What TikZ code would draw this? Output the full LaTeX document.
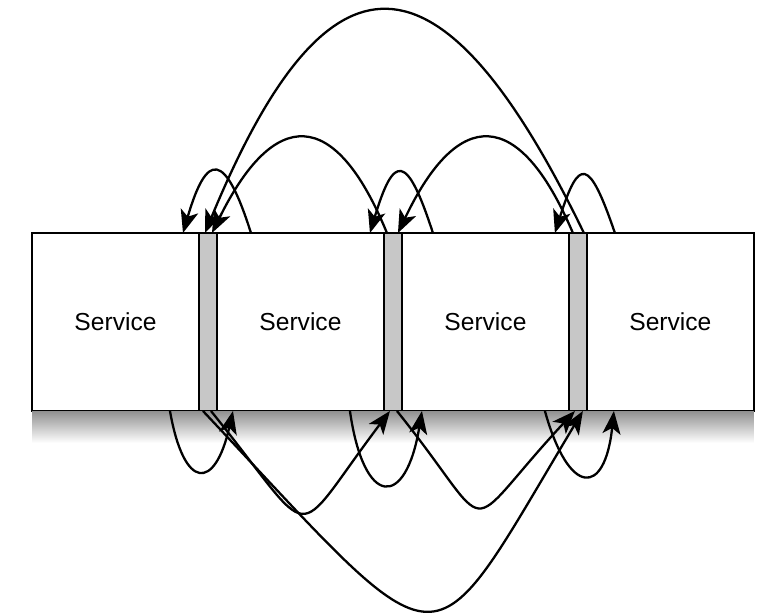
\documentclass[tikz,border=0pt]{standalone}
\usepackage{fontspec}
\setmainfont{Liberation Sans}
\usetikzlibrary{arrows.meta,positioning,calc}

\begin{document}
\begin{tikzpicture}[x=0.02cm,y=-0.02cm]
\tikzset{service/.style ={draw,line width=1.3pt,fill=white,minimum width=3.34cm,minimum height=3.56cm,outer sep=0pt,inner sep=0pt,font=\fontsize{14}{16}\selectfont},
  adapter/.style ={draw,line width=1.3pt,fill=black!22,minimum width=0.36cm,minimum height=3.56cm,outer sep=0pt,inner sep=0pt},
  call/.style ={line width=1.3pt,-{Stealth[length=4.6mm,width=3.6mm,inset=1.2mm]}}}
\useasboundingbox (0,0) rectangle (757,615);
    \node[service] (s1) at (115.5,322) {Service};
    \node[adapter,right=0pt of s1] (b1) {};
    \node[service,right=0pt of b1] (s2) {Service};
    \node[adapter,right=0pt of s2] (b2) {};
    \node[service,right=0pt of b2] (s3) {Service};
    \node[adapter,right=0pt of s3] (b3) {};
    \node[service,right=0pt of b3] (s4) {Service};
% shadow under the row
    \shade[top color=black!42,bottom color=white] ($(s1.south west)+(0,1)$) rectangle ($(s4.south east)+(0,32)$);
% calls over the top, right to left
    \draw[call] ($(s2.north west)+(34,0)$) .. controls +(-26,-82) and +(24,-82) .. ($(s1.north east)+(-16,0)$);
    \draw[call] ($(s3.north west)+(31,0)$) .. controls +(-26,-80) and +(24,-80) .. ($(s2.north east)+(-14,0)$);
    \draw[call] ($(s4.north west)+(28,0)$) .. controls +(-26,-76) and +(24,-76) .. ($(s3.north east)+(-14,0)$);
    \draw[call] ($(b2.north)+(-6,0)$) .. controls +(-52,-127) and +(62,-126) .. ($(b1.north)+(4,0)$);
    \draw[call] ($(b3.north)+(-5,0)$) .. controls +(-54,-127) and +(60,-126) .. ($(b2.north)+(5,0)$);
    \draw[call] ($(b3.north)+(6,0)$) .. controls +(-144,-297) and +(122,-296) .. ($(b1.north)+(-3,0)$);
% calls under the bottom, left to right
    \draw[call] ($(s1.south east)+(-29,0)$) .. controls +(14,80) and +(-18,80) .. ($(s2.south west)+(16,0)$);
    \draw[call] ($(s2.south east)+(-34,0)$) .. controls +(14,98) and +(-16,98) .. ($(s3.south west)+(20,0)$);
    \draw[call] ($(s3.south east)+(-24,0)$) .. controls +(24,86) and +(-9,86) .. ($(s4.south west)+(27,0)$);
    \draw[call] ($(b1.south)+(3,0)$) .. controls +(109,135) and +(-102,135) .. ($(b2.south)+(-3,0)$);
    \draw[call] ($(b2.south)+(4,0)$) .. controls +(103,128) and +(-119,128) .. ($(b3.south)+(-3,0)$);
    \draw[call] ($(b1.south)+(-5,0)$) .. controls +(250,266) and +(-159,265) .. ($(b3.south)+(5,0)$);
\end{tikzpicture}
\end{document}
